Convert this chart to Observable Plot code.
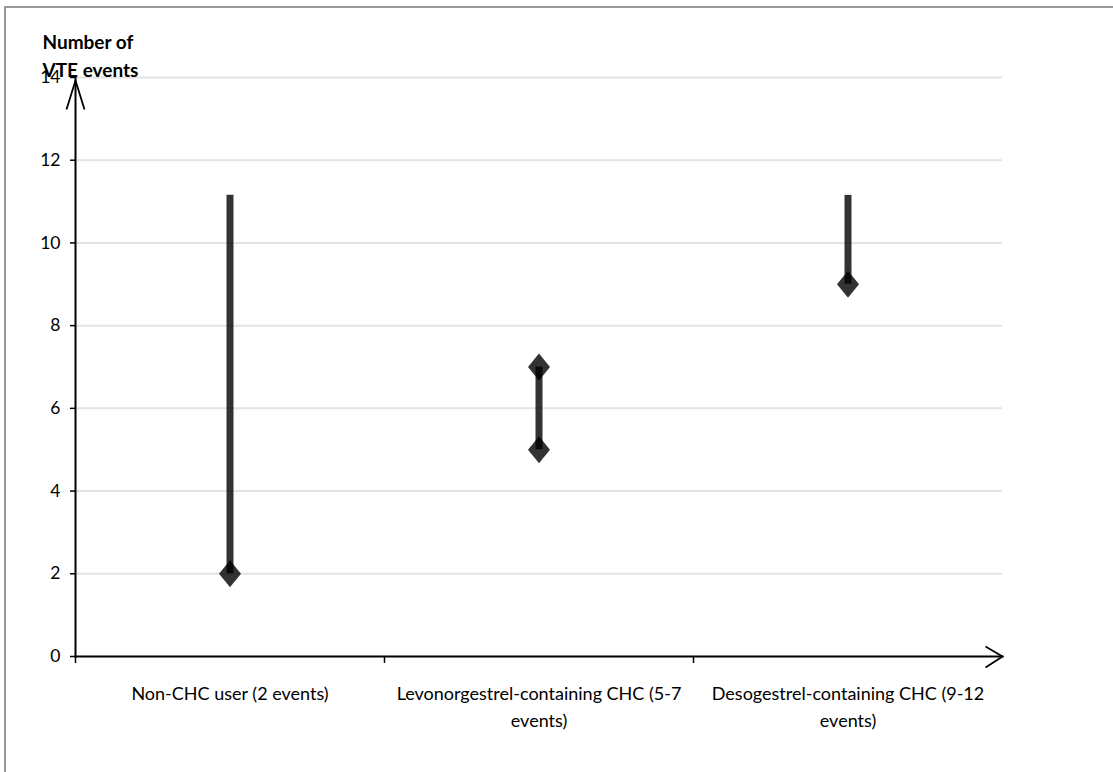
<!DOCTYPE html>
<html>
<head>
<meta charset="utf-8">
<script src="https://cdn.jsdelivr.net/npm/d3@7"></script>
<script src="https://cdn.jsdelivr.net/npm/@observablehq/plot@0.6"></script>
<style>
  html, body { margin: 0; padding: 0; background: #fff; }
  #wrap { position: relative; width: 1113px; height: 772px; overflow: hidden; }
  #border { position: absolute; left: 4px; top: 6px; right: -10px; bottom: -10px;
            border-top: 2px solid #9a9a9a; border-left: 2px solid #9a9a9a; pointer-events: none; }
</style>
</head>
<body>
<div id="wrap"><div id="border"></div></div>
<script>
// ---- data ----
const categories = [
  "Non-CHC user (2 events)",
  "Levonorgestrel-containing CHC (5-7 events)",
  "Desogestrel-containing CHC (9-12 events)"
];
const tickLabels = [
  "Non-CHC user (2 events)",
  "Levonorgestrel-containing CHC (5-7\nevents)",
  "Desogestrel-containing CHC (9-12\nevents)"
];
const rangeLow = [2, 5, 9];
const rangeHigh = [11.15, 7, 11.15];
const markerCategories = [categories[0], categories[1], categories[1], categories[2]];
const markerValues = [2, 5, 7, 9];
const yTicks = [0, 2, 4, 6, 8, 10, 12, 14];
const yTitle = "Number of\nVTE events";

// ---- build tables ----
const ranges = categories.map((c, i) => ({cat: c, low: rangeLow[i], high: rangeHigh[i]}));
const markers = markerCategories.map((c, i) => ({cat: c, v: markerValues[i]}));
const labelOf = new Map(categories.map((c, i) => [c, tickLabels[i]]));

// ---- layout ----
const W = 1113, H = 772;
const mL = 75, mR = 111, mT = 77, mB = 116;
const bw = (W - mL - mR) / categories.length;
const font = "Lato, 'Open Sans', sans-serif";

const diamond = {
  draw(ctx) { ctx.moveTo(0, -13.5); ctx.lineTo(11, 0); ctx.lineTo(0, 13.5); ctx.lineTo(-11, 0); ctx.closePath(); }
};
const chevronUp = {
  draw(ctx) { ctx.moveTo(-9, 29); ctx.lineTo(0, 0); ctx.lineTo(9, 29); }
};
const chevronRight = {
  draw(ctx) { ctx.moveTo(-17, -10); ctx.lineTo(0, 0); ctx.lineTo(-17, 11); }
};

const chart = Plot.plot({
  width: W, height: H,
  marginLeft: mL, marginRight: mR, marginTop: mT, marginBottom: mB,
  style: {fontFamily: font, fontSize: "17px", color: "#000", background: "transparent", overflow: "visible"},
  x: {type: "band", domain: categories, padding: 0, axis: null, label: null},
  y: {domain: [0, 14], axis: null, label: null},
  marks: [
    Plot.gridY(yTicks.filter(d => d > 0), {stroke: "#e3e3e3", strokeOpacity: 1, strokeWidth: 2}),
    // y axis ticks and labels
    Plot.axisY(yTicks, {anchor: "left", label: null, tickSize: 5, tickPadding: 10, stroke: "#000", strokeWidth: 1.5, fontSize: 17.5, tickFormat: d => String(d)}),
    // x axis boundary ticks
    Plot.axisX(categories, {anchor: "bottom", label: null, tickSize: 7, tickFormat: () => "", dx: -bw / 2, stroke: "#000", strokeWidth: 1.5}),
    // x axis labels
    Plot.axisX(categories, {anchor: "bottom", label: null, tickSize: 0, tickPadding: 24, fontSize: 18, lineHeight: 1.5, lineAnchor: "top", tickFormat: d => labelOf.get(d)}),
    // axis lines
    Plot.frame({anchor: "left", stroke: "#000", strokeWidth: 2}),
    Plot.frame({anchor: "bottom", stroke: "#000", strokeWidth: 2}),
    // arrowheads
    Plot.dot([0], {frameAnchor: "top-left", dy: 3, symbol: chevronUp, r: 10, fill: "none", stroke: "#000", strokeWidth: 1.8}),
    Plot.dot([0], {frameAnchor: "bottom-right", symbol: chevronRight, r: 10, fill: "none", stroke: "#000", strokeWidth: 1.8}),
    // range lines
    Plot.ruleX(ranges, {x: "cat", y1: "low", y2: "high", stroke: "#000", strokeOpacity: 0.8, strokeWidth: 7}),
    // diamonds
    Plot.dot(markers, {x: "cat", y: "v", symbol: diamond, r: 10, fill: "#000", fillOpacity: 0.8, stroke: "none"}),
    // y title
    Plot.text([yTitle], {frameAnchor: "top-left", dx: -33, dy: -1, text: d => d, textAnchor: "start", lineAnchor: "bottom", lineHeight: 1.45, fontWeight: "bold", fontSize: 19, fill: "#000"})
  ]
});
document.getElementById("wrap").appendChild(chart);
</script>
</body>
</html>
